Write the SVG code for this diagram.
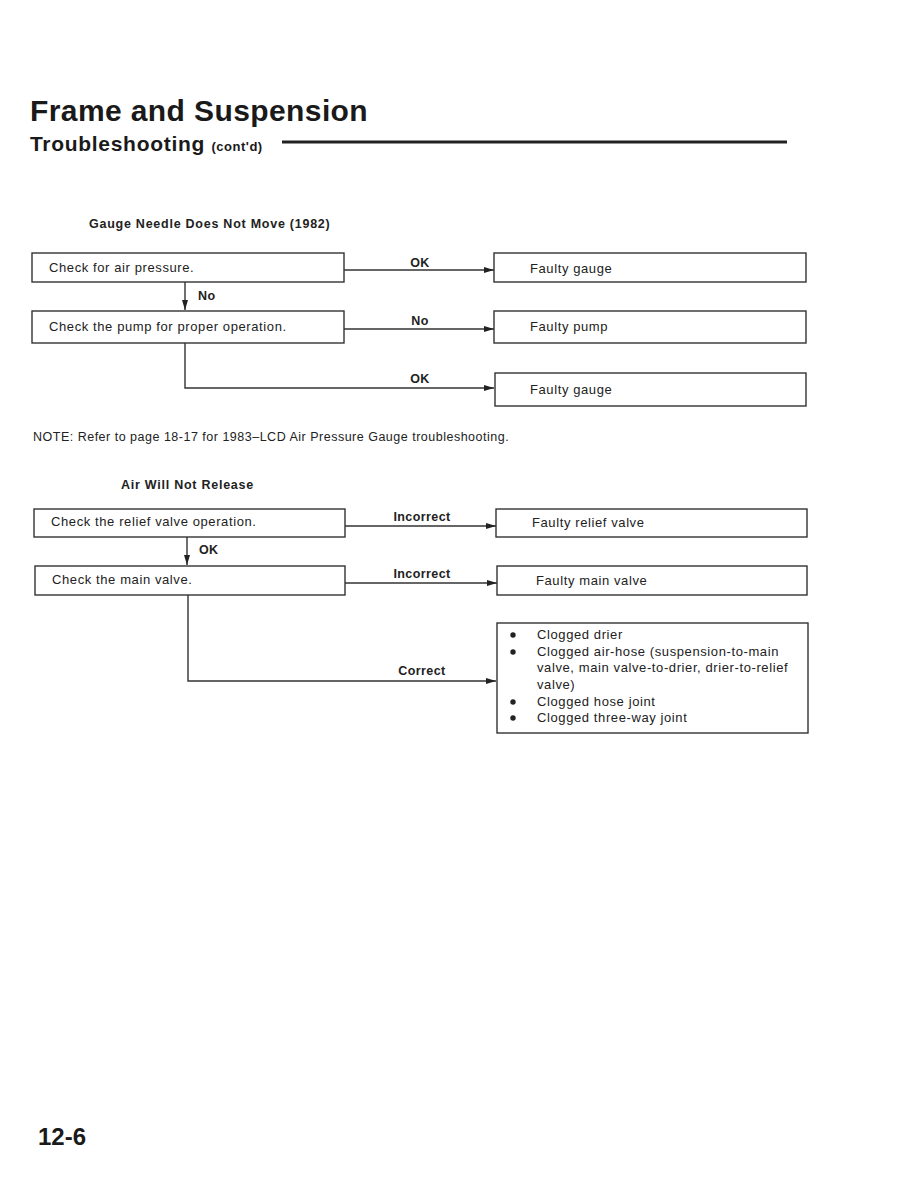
<svg xmlns="http://www.w3.org/2000/svg" width="897" height="1204" viewBox="0 0 897 1204">
<defs>
<marker id="ah" markerWidth="10" markerHeight="6" refX="10" refY="3" orient="auto" markerUnits="userSpaceOnUse">
<path d="M0,0 L10,3 L0,6 Z" fill="#222"/>
</marker>
<style>
.box{fill:#fff;stroke:#333;stroke-width:1.4}
.t{font-family:"Liberation Sans",Arial,sans-serif;font-size:13px;fill:#222;letter-spacing:0.6px}
.lb{font-family:"Liberation Sans",Arial,sans-serif;font-size:12.5px;font-weight:bold;fill:#222;text-anchor:middle;letter-spacing:0.4px}
.lbs{text-anchor:start}
.hd{font-family:"Liberation Sans",Arial,sans-serif;font-size:12.5px;font-weight:bold;fill:#222;letter-spacing:0.75px}
.ln{fill:none;stroke:#333;stroke-width:1.4}
.ar{fill:none;stroke:#333;stroke-width:1.4;marker-end:url(#ah)}
</style>
</defs>
<rect width="897" height="1204" fill="#fff"/>
<g id="title">
<text x="30" y="121" font-family="Liberation Sans,Arial,sans-serif" font-size="30" font-weight="bold" fill="#1a1a1a" letter-spacing="0.4">Frame and Suspension</text>
<text x="30" y="151" font-family="Liberation Sans,Arial,sans-serif" font-size="21" font-weight="bold" fill="#1a1a1a" letter-spacing="0.7">Troubleshooting <tspan font-size="13" letter-spacing="0.5">(cont'd)</tspan></text>
<line x1="282" y1="142" x2="787" y2="142" stroke="#222" stroke-width="3"/>
</g>
<text class="hd" x="89" y="228">Gauge Needle Does Not Move (1982)</text>
<g id="connectors">
<line class="ar" x1="185" y1="282" x2="185" y2="310"/>
<line class="ar" x1="344" y1="270" x2="494" y2="270"/>
<line class="ar" x1="344" y1="329" x2="494" y2="329"/>
<polyline class="ar" points="185,343 185,388 494,388"/>
<line class="ar" x1="187" y1="537" x2="187" y2="565"/>
<line class="ar" x1="345" y1="526" x2="496" y2="526"/>
<line class="ar" x1="345" y1="583" x2="497" y2="583"/>
<polyline class="ar" points="188,595 188,681 496,681"/>
<text class="lb" x="420" y="267">OK</text>
<text class="lb lbs" x="198" y="300">No</text>
<text class="lb" x="420" y="325">No</text>
<text class="lb" x="420" y="383">OK</text>
<text class="lb lbs" x="199" y="554">OK</text>
<text class="lb" x="422" y="521">Incorrect</text>
<text class="lb" x="422" y="578">Incorrect</text>
<text class="lb" x="422" y="675">Correct</text>
</g>
<g id="n1"><rect class="box" x="32" y="253" width="312" height="29"/><text class="t" x="49" y="272">Check for air pressure.</text></g>
<g id="n2"><rect class="box" x="32" y="311" width="312" height="32"/><text class="t" x="49" y="331">Check the pump for proper operation.</text></g>
<g id="n3"><rect class="box" x="494" y="253" width="312" height="29"/><text class="t" x="530" y="273">Faulty gauge</text></g>
<g id="n4"><rect class="box" x="494" y="311" width="312" height="32"/><text class="t" x="530" y="331">Faulty pump</text></g>
<g id="n5"><rect class="box" x="495" y="373" width="311" height="33"/><text class="t" x="530" y="394">Faulty gauge</text></g>
<text x="33" y="441" font-family="Liberation Sans,Arial,sans-serif" font-size="12.5" fill="#222" letter-spacing="0.5">NOTE:  Refer to page 18-17 for 1983–LCD Air Pressure Gauge troubleshooting.</text>
<text class="hd" x="121" y="489" letter-spacing="1">Air Will Not Release</text>
<g id="n6"><rect class="box" x="34" y="509" width="311" height="28"/><text class="t" x="51" y="526">Check the relief valve operation.</text></g>
<g id="n7"><rect class="box" x="35" y="566" width="310" height="29"/><text class="t" x="52" y="584">Check the main valve.</text></g>
<g id="n8"><rect class="box" x="496" y="509" width="311" height="28"/><text class="t" x="532" y="527">Faulty relief valve</text></g>
<g id="n9"><rect class="box" x="497" y="566" width="310" height="29"/><text class="t" x="536" y="585">Faulty main valve</text></g>
<g id="n10"><rect class="box" x="497" y="623" width="311" height="110"/>
<g fill="#222"><circle cx="513" cy="635" r="2.7"/><circle cx="513" cy="652" r="2.7"/><circle cx="513" cy="702" r="2.7"/><circle cx="513" cy="718" r="2.7"/></g>
<text class="t" x="537" y="639">Clogged drier</text>
<text class="t" x="537" y="656">Clogged air-hose (suspension-to-main</text>
<text class="t" x="537" y="672">valve, main valve-to-drier, drier-to-relief</text>
<text class="t" x="537" y="689">valve)</text>
<text class="t" x="537" y="706">Clogged hose joint</text>
<text class="t" x="537" y="722">Clogged three-way joint</text>
</g>
<text x="38" y="1145" font-family="Liberation Sans,Arial,sans-serif" font-size="24" font-weight="bold" fill="#1a1a1a">12-6</text>
</svg>
